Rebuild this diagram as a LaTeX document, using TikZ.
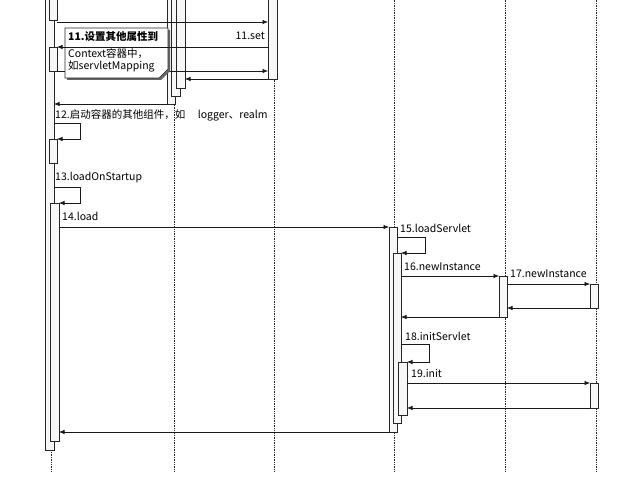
\documentclass[tikz,border=0pt]{standalone}
\usepackage{fontspec}
\setmainfont{Noto Sans CJK SC}
\usetikzlibrary{arrows.meta}
\newcommand\actbar[4]{\draw[bar] (#1,#2) rectangle (#3,#4);}
\begin{document}
\begin{tikzpicture}[x=1pt,y=-1pt,
  lifeline/.style={densely dotted, line width=0.7pt, black!85},
  bar/.style={draw=black!85, fill=black!3, line width=0.6pt},
  msg/.style={line width=0.65pt, black!90, -{Latex[length=5.5pt,width=4.5pt]}},
  lbl/.style={font=\fontsize{10.5}{12}\selectfont, inner sep=0pt, text=black, anchor=west},
  notebox/.style={draw=black!85, fill=white, line width=0.7pt}]
\useasboundingbox (0,0) rectangle (637,481);
\clip (0,0) rectangle (637,481);
% lifelines
\foreach \n/\x in {l1/51,l2/174,l3/274,l4/394,l5/505,l6/596}{
  \coordinate (\n top) at (\x,-2);
  \coordinate (\n bot) at (\x,472);
  \draw[lifeline] (\n top) -- (\n bot);
}
% activation bars, lifeline 1
\actbar{45}{-3}{54}{450}
\actbar{49}{-3}{57}{20}
\actbar{49}{47}{57}{71}
\actbar{49}{139}{57}{163}
\actbar{50}{203}{59}{441}
% lifeline 2
\actbar{167}{-3}{175}{104}
\actbar{171}{-3}{180}{96}
\actbar{176}{-3}{185}{88}
% lifeline 3
\actbar{268}{-3}{277}{79}
% lifeline 4
\actbar{389}{227}{397}{432}
\actbar{393}{253}{401}{423}
\actbar{398}{362}{407}{415}
% lifeline 5
\actbar{499}{276}{507}{317}
% lifeline 6
\actbar{590}{284}{598}{308}
\actbar{590}{383}{598}{408}

% message end points
\coordinate (m1s) at (57,22);   \coordinate (m1e) at (268,22);
\coordinate (m2s) at (268,47);  \coordinate (m2e) at (57,47);
\coordinate (m3s) at (57,71);   \coordinate (m3e) at (268,71);
\coordinate (m4s) at (268,79);  \coordinate (m4e) at (185,79);
\coordinate (m5s) at (167,104); \coordinate (m5e) at (54,104);
\coordinate (m14s) at (59,227); \coordinate (m14e) at (389,227);
\coordinate (m16s) at (401,276); \coordinate (m16e) at (499,276);
\coordinate (r16s) at (499,317); \coordinate (r16e) at (401,317);
\coordinate (m17s) at (507,284); \coordinate (m17e) at (590,284);
\coordinate (r17s) at (590,308); \coordinate (r17e) at (507,308);
\coordinate (m19s) at (407,383); \coordinate (m19e) at (590,383);
\coordinate (r19s) at (590,408); \coordinate (r19e) at (407,408);
\coordinate (r14s) at (389,432); \coordinate (r14e) at (59,432);

\draw[msg] (m1s) -- (m1e);
\draw[msg] (m3s) -- (m3e);
% note
\coordinate (n1) at (65,28); \coordinate (n2) at (168,28); \coordinate (n3) at (168,69);
\coordinate (n4) at (159,78); \coordinate (n5) at (65,78);
\fill[black!60] ([shift={(2,2)}]n1) -- ([shift={(2,2)}]n2) -- ([shift={(2,2)}]n3) -- ([shift={(2,2)}]n4) -- ([shift={(2,2)}]n5) -- cycle;
\draw[notebox] (n1) -- (n2) -- (n3) -- (n4) -- (n5) -- cycle;
\node[lbl, font=\fontsize{10.5}{12}\selectfont\bfseries] (note1) at (68,37) {11.设置其他属性到};
\node[lbl] (note2) at (68,54) {Context容器中，};
\node[lbl] (note3) at (68,66) {如servletMapping};

\draw[msg] (m2s) -- (m2e);
\node[lbl, anchor=east] (t11) at (265,36) {11.set};
\draw[msg] (m4s) -- (m4e);
\draw[msg] (m5s) -- (m5e);

% self calls
\coordinate (s12a) at (54,123); \coordinate (s12b) at (57,139);
\draw[msg] (s12a) -- (80,123) -- (80,139) -- (s12b);
\node[lbl] (t12) at (55,115) {12.启动容器的其他组件，如\hspace{1.2em}logger、realm};
\coordinate (s13a) at (54,187); \coordinate (s13b) at (59,203);
\draw[msg] (s13a) -- (80,187) -- (80,203) -- (s13b);
\node[lbl] (t13) at (55,178) {13.loadOnStartup};

\draw[msg] (m14s) -- (m14e);
\node[lbl] (t14) at (62,216) {14.load};

\coordinate (s15a) at (397,237); \coordinate (s15b) at (401,253);
\draw[msg] (s15a) -- (425,237) -- (425,253) -- (s15b);
\node[lbl] (t15) at (400,228) {15.loadServlet};

\draw[msg] (m16s) -- (m16e);
\node[lbl] (t16) at (404,267) {16.newInstance};
\draw[msg] (r16s) -- (r16e);
\draw[msg] (m17s) -- (m17e);
\node[lbl] (t17) at (510,274) {17.newInstance};
\draw[msg] (r17s) -- (r17e);

\coordinate (s18a) at (401,344); \coordinate (s18b) at (407,362);
\draw[msg] (s18a) -- (429,344) -- (429,362) -- (s18b);
\node[lbl] (t18) at (405,336) {18.initServlet};

\draw[msg] (m19s) -- (m19e);
\node[lbl] (t19) at (411,373) {19.init};
\draw[msg] (r19s) -- (r19e);
\draw[msg] (r14s) -- (r14e);
\end{tikzpicture}
\end{document}
